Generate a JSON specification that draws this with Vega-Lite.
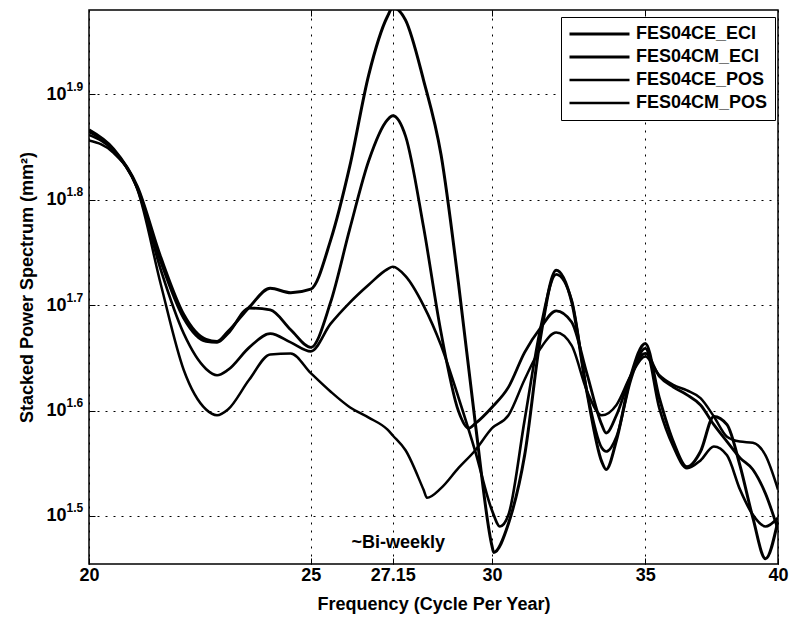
{
  "$schema": "https://vega.github.io/schema/vega-lite/v6.json",
  "width": 689,
  "height": 554,
  "autosize": {"type": "none"},
  "padding": {"left": 89, "top": 10, "right": 12, "bottom": 54},
  "background": "white",
  "config": {
    "font": "Liberation Sans",
    "view": {"stroke": "black", "strokeWidth": 1.5}
  },
  "datasets": {
    "notes": [{"freq": 27.3, "power": 29.8, "label": "~Bi-weekly"}],
    "spectra": [
      {"series": "FES04CE_ECI", "freq": 20, "power": 73.5},
      {"series": "FES04CE_ECI", "freq": 20.5, "power": 70.5},
      {"series": "FES04CE_ECI", "freq": 21, "power": 64.9},
      {"series": "FES04CE_ECI", "freq": 21.5, "power": 55.6},
      {"series": "FES04CE_ECI", "freq": 22, "power": 49.1},
      {"series": "FES04CE_ECI", "freq": 22.5, "power": 46.5},
      {"series": "FES04CE_ECI", "freq": 22.75, "power": 46.3},
      {"series": "FES04CE_ECI", "freq": 23, "power": 47.3},
      {"series": "FES04CE_ECI", "freq": 23.5, "power": 49.9},
      {"series": "FES04CE_ECI", "freq": 24, "power": 52.0},
      {"series": "FES04CE_ECI", "freq": 24.5, "power": 51.5},
      {"series": "FES04CE_ECI", "freq": 25, "power": 51.9},
      {"series": "FES04CE_ECI", "freq": 25.5, "power": 57.7},
      {"series": "FES04CE_ECI", "freq": 26, "power": 67.9},
      {"series": "FES04CE_ECI", "freq": 26.5, "power": 82.9},
      {"series": "FES04CE_ECI", "freq": 27, "power": 94.1},
      {"series": "FES04CE_ECI", "freq": 27.15, "power": 96.0},
      {"series": "FES04CE_ECI", "freq": 27.5, "power": 93.4},
      {"series": "FES04CE_ECI", "freq": 28, "power": 82.0},
      {"series": "FES04CE_ECI", "freq": 28.5, "power": 69.6},
      {"series": "FES04CE_ECI", "freq": 29, "power": 52.7},
      {"series": "FES04CE_ECI", "freq": 29.5, "power": 38.7},
      {"series": "FES04CE_ECI", "freq": 30, "power": 29.6},
      {"series": "FES04CE_ECI", "freq": 30.05, "power": 29.2},
      {"series": "FES04CE_ECI", "freq": 30.5, "power": 31.1},
      {"series": "FES04CE_ECI", "freq": 31, "power": 36.1},
      {"series": "FES04CE_ECI", "freq": 31.5, "power": 46.7},
      {"series": "FES04CE_ECI", "freq": 32, "power": 54.1},
      {"series": "FES04CE_ECI", "freq": 32.5, "power": 50.5},
      {"series": "FES04CE_ECI", "freq": 33, "power": 41.5},
      {"series": "FES04CE_ECI", "freq": 33.5, "power": 35.6},
      {"series": "FES04CE_ECI", "freq": 33.65, "power": 35.0},
      {"series": "FES04CE_ECI", "freq": 34, "power": 37.3},
      {"series": "FES04CE_ECI", "freq": 34.5, "power": 43.0},
      {"series": "FES04CE_ECI", "freq": 35, "power": 46.1},
      {"series": "FES04CE_ECI", "freq": 35.5, "power": 40.9},
      {"series": "FES04CE_ECI", "freq": 36, "power": 37.2},
      {"series": "FES04CE_ECI", "freq": 36.5, "power": 35.2},
      {"series": "FES04CE_ECI", "freq": 37, "power": 36.4},
      {"series": "FES04CE_ECI", "freq": 37.5, "power": 39.3},
      {"series": "FES04CE_ECI", "freq": 38, "power": 38.6},
      {"series": "FES04CE_ECI", "freq": 38.5, "power": 35.3},
      {"series": "FES04CE_ECI", "freq": 39, "power": 31.5},
      {"series": "FES04CE_ECI", "freq": 39.5, "power": 28.8},
      {"series": "FES04CE_ECI", "freq": 40, "power": 31.3},

      {"series": "FES04CM_ECI", "freq": 20, "power": 73.2},
      {"series": "FES04CM_ECI", "freq": 20.5, "power": 70.3},
      {"series": "FES04CM_ECI", "freq": 21, "power": 64.7},
      {"series": "FES04CM_ECI", "freq": 21.5, "power": 55.1},
      {"series": "FES04CM_ECI", "freq": 22, "power": 48.7},
      {"series": "FES04CM_ECI", "freq": 22.5, "power": 46.3},
      {"series": "FES04CM_ECI", "freq": 22.75, "power": 46.2},
      {"series": "FES04CM_ECI", "freq": 23, "power": 47.1},
      {"series": "FES04CM_ECI", "freq": 23.5, "power": 49.8},
      {"series": "FES04CM_ECI", "freq": 24, "power": 49.6},
      {"series": "FES04CM_ECI", "freq": 24.5, "power": 47.5},
      {"series": "FES04CM_ECI", "freq": 25, "power": 45.7},
      {"series": "FES04CM_ECI", "freq": 25.5, "power": 50.4},
      {"series": "FES04CM_ECI", "freq": 26, "power": 59.2},
      {"series": "FES04CM_ECI", "freq": 26.5, "power": 68.7},
      {"series": "FES04CM_ECI", "freq": 27, "power": 75.1},
      {"series": "FES04CM_ECI", "freq": 27.15, "power": 75.8},
      {"series": "FES04CM_ECI", "freq": 27.5, "power": 72.5},
      {"series": "FES04CM_ECI", "freq": 28, "power": 59.5},
      {"series": "FES04CM_ECI", "freq": 28.5, "power": 47.2},
      {"series": "FES04CM_ECI", "freq": 29, "power": 39.8},
      {"series": "FES04CM_ECI", "freq": 29.3, "power": 38.3},
      {"series": "FES04CM_ECI", "freq": 29.5, "power": 38.7},
      {"series": "FES04CM_ECI", "freq": 30, "power": 40.1},
      {"series": "FES04CM_ECI", "freq": 30.5, "power": 41.9},
      {"series": "FES04CM_ECI", "freq": 31, "power": 45.2},
      {"series": "FES04CM_ECI", "freq": 31.5, "power": 47.7},
      {"series": "FES04CM_ECI", "freq": 32, "power": 49.5},
      {"series": "FES04CM_ECI", "freq": 32.5, "power": 48.3},
      {"series": "FES04CM_ECI", "freq": 33, "power": 43.2},
      {"series": "FES04CM_ECI", "freq": 33.5, "power": 38.6},
      {"series": "FES04CM_ECI", "freq": 33.65, "power": 37.9},
      {"series": "FES04CM_ECI", "freq": 34, "power": 39.4},
      {"series": "FES04CM_ECI", "freq": 34.5, "power": 43.0},
      {"series": "FES04CM_ECI", "freq": 35, "power": 45.1},
      {"series": "FES04CM_ECI", "freq": 35.5, "power": 42.9},
      {"series": "FES04CM_ECI", "freq": 36, "power": 41.9},
      {"series": "FES04CM_ECI", "freq": 36.5, "power": 41.2},
      {"series": "FES04CM_ECI", "freq": 37, "power": 40.3},
      {"series": "FES04CM_ECI", "freq": 37.5, "power": 38.6},
      {"series": "FES04CM_ECI", "freq": 38, "power": 37.2},
      {"series": "FES04CM_ECI", "freq": 38.5, "power": 35.9},
      {"series": "FES04CM_ECI", "freq": 39, "power": 35.0},
      {"series": "FES04CM_ECI", "freq": 39.5, "power": 33.2},
      {"series": "FES04CM_ECI", "freq": 40, "power": 30.7},

      {"series": "FES04CE_POS", "freq": 20, "power": 72.7},
      {"series": "FES04CE_POS", "freq": 20.5, "power": 70.2},
      {"series": "FES04CE_POS", "freq": 21, "power": 64.6},
      {"series": "FES04CE_POS", "freq": 21.5, "power": 54.1},
      {"series": "FES04CE_POS", "freq": 22, "power": 47.1},
      {"series": "FES04CE_POS", "freq": 22.5, "power": 43.6},
      {"series": "FES04CE_POS", "freq": 22.75, "power": 43.0},
      {"series": "FES04CE_POS", "freq": 23, "power": 43.5},
      {"series": "FES04CE_POS", "freq": 23.5, "power": 45.7},
      {"series": "FES04CE_POS", "freq": 24, "power": 47.1},
      {"series": "FES04CE_POS", "freq": 24.5, "power": 46.2},
      {"series": "FES04CE_POS", "freq": 25, "power": 45.3},
      {"series": "FES04CE_POS", "freq": 25.5, "power": 48.1},
      {"series": "FES04CE_POS", "freq": 26, "power": 50.4},
      {"series": "FES04CE_POS", "freq": 26.5, "power": 52.4},
      {"series": "FES04CE_POS", "freq": 27, "power": 54.2},
      {"series": "FES04CE_POS", "freq": 27.15, "power": 54.5},
      {"series": "FES04CE_POS", "freq": 27.5, "power": 53.4},
      {"series": "FES04CE_POS", "freq": 28, "power": 50.1},
      {"series": "FES04CE_POS", "freq": 28.5, "power": 45.9},
      {"series": "FES04CE_POS", "freq": 29, "power": 41.0},
      {"series": "FES04CE_POS", "freq": 29.5, "power": 36.4},
      {"series": "FES04CE_POS", "freq": 30, "power": 32.0},
      {"series": "FES04CE_POS", "freq": 30.24, "power": 30.9},
      {"series": "FES04CE_POS", "freq": 30.5, "power": 31.7},
      {"series": "FES04CE_POS", "freq": 31, "power": 39.0},
      {"series": "FES04CE_POS", "freq": 31.5, "power": 47.7},
      {"series": "FES04CE_POS", "freq": 32, "power": 53.6},
      {"series": "FES04CE_POS", "freq": 32.5, "power": 50.7},
      {"series": "FES04CE_POS", "freq": 33, "power": 41.6},
      {"series": "FES04CE_POS", "freq": 33.5, "power": 36.7},
      {"series": "FES04CE_POS", "freq": 33.65, "power": 36.4},
      {"series": "FES04CE_POS", "freq": 34, "power": 37.6},
      {"series": "FES04CE_POS", "freq": 34.5, "power": 42.6},
      {"series": "FES04CE_POS", "freq": 35, "power": 45.6},
      {"series": "FES04CE_POS", "freq": 35.5, "power": 40.0},
      {"series": "FES04CE_POS", "freq": 36, "power": 36.8},
      {"series": "FES04CE_POS", "freq": 36.5, "power": 35.1},
      {"series": "FES04CE_POS", "freq": 37, "power": 35.7},
      {"series": "FES04CE_POS", "freq": 37.5, "power": 36.8},
      {"series": "FES04CE_POS", "freq": 38, "power": 36.1},
      {"series": "FES04CE_POS", "freq": 38.5, "power": 33.5},
      {"series": "FES04CE_POS", "freq": 39, "power": 31.7},
      {"series": "FES04CE_POS", "freq": 39.5, "power": 30.9},
      {"series": "FES04CE_POS", "freq": 40, "power": 31.5},

      {"series": "FES04CM_POS", "freq": 20, "power": 71.8},
      {"series": "FES04CM_POS", "freq": 20.5, "power": 69.9},
      {"series": "FES04CM_POS", "freq": 21, "power": 64.5},
      {"series": "FES04CM_POS", "freq": 21.5, "power": 52.4},
      {"series": "FES04CM_POS", "freq": 22, "power": 43.5},
      {"series": "FES04CM_POS", "freq": 22.5, "power": 39.9},
      {"series": "FES04CM_POS", "freq": 22.75, "power": 39.4},
      {"series": "FES04CM_POS", "freq": 23, "power": 39.9},
      {"series": "FES04CM_POS", "freq": 23.5, "power": 42.6},
      {"series": "FES04CM_POS", "freq": 24, "power": 45.0},
      {"series": "FES04CM_POS", "freq": 24.5, "power": 45.1},
      {"series": "FES04CM_POS", "freq": 25, "power": 43.2},
      {"series": "FES04CM_POS", "freq": 25.5, "power": 41.5},
      {"series": "FES04CM_POS", "freq": 26, "power": 40.1},
      {"series": "FES04CM_POS", "freq": 26.5, "power": 39.2},
      {"series": "FES04CM_POS", "freq": 27, "power": 38.2},
      {"series": "FES04CM_POS", "freq": 27.15, "power": 37.7},
      {"series": "FES04CM_POS", "freq": 27.5, "power": 36.5},
      {"series": "FES04CM_POS", "freq": 28, "power": 33.5},
      {"series": "FES04CM_POS", "freq": 28.1, "power": 32.9},
      {"series": "FES04CM_POS", "freq": 28.5, "power": 33.6},
      {"series": "FES04CM_POS", "freq": 29, "power": 35.1},
      {"series": "FES04CM_POS", "freq": 29.5, "power": 36.5},
      {"series": "FES04CM_POS", "freq": 30, "power": 38.3},
      {"series": "FES04CM_POS", "freq": 30.5, "power": 39.4},
      {"series": "FES04CM_POS", "freq": 31, "power": 42.6},
      {"series": "FES04CM_POS", "freq": 31.5, "power": 45.6},
      {"series": "FES04CM_POS", "freq": 32, "power": 47.2},
      {"series": "FES04CM_POS", "freq": 32.5, "power": 45.9},
      {"series": "FES04CM_POS", "freq": 33, "power": 41.6},
      {"series": "FES04CM_POS", "freq": 33.5, "power": 39.4},
      {"series": "FES04CM_POS", "freq": 34, "power": 40.3},
      {"series": "FES04CM_POS", "freq": 34.5, "power": 43.0},
      {"series": "FES04CM_POS", "freq": 35, "power": 44.8},
      {"series": "FES04CM_POS", "freq": 35.5, "power": 43.0},
      {"series": "FES04CM_POS", "freq": 36, "power": 42.1},
      {"series": "FES04CM_POS", "freq": 36.5, "power": 41.6},
      {"series": "FES04CM_POS", "freq": 37, "power": 40.9},
      {"series": "FES04CM_POS", "freq": 37.5, "power": 39.3},
      {"series": "FES04CM_POS", "freq": 38, "power": 37.6},
      {"series": "FES04CM_POS", "freq": 38.5, "power": 37.2},
      {"series": "FES04CM_POS", "freq": 39, "power": 37.1},
      {"series": "FES04CM_POS", "freq": 39.5, "power": 36.1},
      {"series": "FES04CM_POS", "freq": 40, "power": 33.5}
    ]
  },
  "layer": [
    {
      "data": {"name": "spectra"},
      "mark": {"type": "line", "interpolate": "monotone", "clip": true, "color": "black"},
      "encoding": {
        "x": {
          "field": "freq", "type": "quantitative",
          "scale": {"type": "log", "domain": [20, 40], "nice": false},
          "axis": {
            "values": [20, 25, 27.15, 30, 35, 40], "format": "~g",
            "title": "Frequency (Cycle Per Year)",
            "grid": true, "gridColor": "black", "gridDash": [2, 6], "gridWidth": 1, "gridOpacity": 1,
            "domain": false, "tickSize": -6, "tickColor": "black", "tickWidth": 1,
            "labelFontSize": 18, "labelFontWeight": "bold", "labelColor": "black", "labelPadding": 8,
            "labelFlush": false,
            "titleFontSize": 18, "titleFontWeight": "bold", "titleColor": "black",
            "titleY": 45, "titleBaseline": "alphabetic"
          }
        },
        "y": {
          "field": "power", "type": "quantitative",
          "scale": {"type": "log", "domain": [28.47, 95.5], "nice": false},
          "axis": {
            "values": [31.623, 39.811, 50.119, 63.096, 79.433], "labelExpr": "'10'",
            "title": "Stacked Power Spectrum (mm²)",
            "grid": true, "gridColor": "black", "gridDash": [2, 6], "gridWidth": 1, "gridOpacity": 1,
            "domain": false, "tickSize": -6, "tickColor": "black", "tickWidth": 1,
            "labelFontSize": 18, "labelFontWeight": "bold", "labelColor": "black", "labelPadding": 29,
            "titleFontSize": 18, "titleFontWeight": "bold", "titleColor": "black",
            "titleX": -62, "titleY": 277, "titleBaseline": "middle", "titleAngle": -90
          }
        },
        "strokeWidth": {
          "field": "series", "type": "nominal",
          "scale": {"domain": ["FES04CE_ECI", "FES04CM_ECI", "FES04CE_POS", "FES04CM_POS"], "range": [3, 2.5, 3.2, 4.2]},
          "legend": {
            "orient": "none", "legendX": 472, "legendY": 7, "title": null,
            "symbolType": "stroke", "symbolSize": 3600, "clipHeight": 20,
            "symbolStrokeColor": "black",
            "labelFont": "Liberation Sans", "labelFontSize": 18, "labelFontWeight": "bold", "labelColor": "black",
            "labelOffset": 5, "rowPadding": 3, "padding": 7,
            "strokeColor": "black", "fillColor": "white"
          }
        }
      }
    },
    {
      "data": {"name": "notes"},
      "mark": {"type": "text", "fontSize": 18, "fontWeight": "bold", "color": "black", "align": "center", "baseline": "middle"},
      "encoding": {
        "x": {
          "field": "freq", "type": "quantitative",
          "axis": {
            "orient": "top", "title": null, "values": [25, 27.15, 30, 35],
            "labels": false, "grid": false, "domain": false,
            "tickSize": -6, "tickColor": "black", "tickWidth": 1
          }
        },
        "y": {
          "field": "power", "type": "quantitative",
          "axis": {
            "orient": "left", "title": null,
            "values": [31.623, 39.811, 50.119, 63.096, 79.433],
            "labelExpr": "format(log(datum.value) / log(10), '.1f')",
            "grid": false, "ticks": false, "domain": false,
            "labelAlign": "left", "labelPadding": 23, "labelOffset": -8,
            "labelFontSize": 12, "labelFontWeight": "bold", "labelColor": "black"
          }
        },
        "text": {"field": "label"}
      }
    }
  ],
  "resolve": {"axis": {"x": "independent", "y": "independent"}}
}
